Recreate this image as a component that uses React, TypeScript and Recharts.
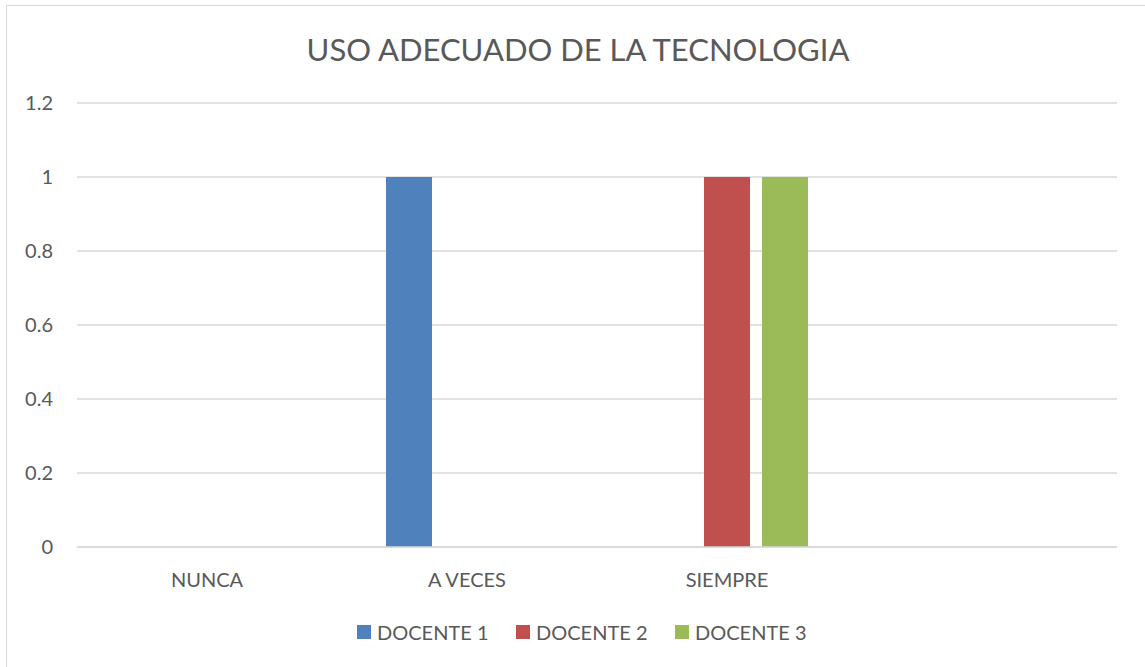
import { BarChart, Bar, XAxis, YAxis, CartesianGrid } from "recharts";

// categories (the fourth slot is empty in the original chart)
const categories = ["NUNCA", "A VECES", "SIEMPRE", ""];
const docente1 = [0, 1, 0, 0];
const docente2 = [0, 0, 1, 0];
const docente3 = [0, 0, 1, 0];
const yTicks = [0, 0.2, 0.4, 0.6, 0.8, 1, 1.2];

const series = [
  { key: "docente1", name: "DOCENTE 1", color: "#4f81bd" },
  { key: "docente2", name: "DOCENTE 2", color: "#c0504d" },
  { key: "docente3", name: "DOCENTE 3", color: "#9bbb59" },
];

const data = categories.map((c, i) => ({
  cat: c,
  docente1: docente1[i],
  docente2: docente2[i],
  docente3: docente3[i],
}));

const FONT = "Lato, 'Liberation Sans', sans-serif";
const TEXT = "#595959";

export default function App() {
  return (
    <div
      style={{
        position: "absolute",
        left: 0,
        top: 0,
        width: 1145,
        height: 667,
        overflow: "hidden",
        background: "#fff",
        fontFamily: FONT,
      }}
    >
      <div
        style={{
          position: "absolute",
          left: 6,
          top: 5,
          width: 1200,
          height: 720,
          border: "1px solid #d9d9d9",
        }}
      />
      <div
        style={{
          position: "absolute",
          left: 0,
          top: 34,
          width: 1156,
          textAlign: "center",
          fontSize: 31,
          lineHeight: "31px",
          color: TEXT,
        }}
      >
        USO ADECUADO DE LA TECNOLOGIA
      </div>
      <div style={{ position: "absolute", left: 0, top: 0 }}>
        <BarChart
          width={1145}
          height={667}
          data={data}
          margin={{ top: 103, right: 28, left: 0, bottom: 80 }}
          barSize={46}
          barGap={12}
        >
          <CartesianGrid vertical={false} stroke="#d9d9d9" strokeWidth={1.3} />
          <XAxis
            dataKey="cat"
            tickLine={false}
            tickSize={0}
            tickMargin={26}
            height={40}
            axisLine={{ stroke: "#d9d9d9", strokeWidth: 1.5 }}
            tick={{ fill: TEXT, fontSize: 20, fontFamily: FONT }}
            interval={0}
          />
          <YAxis
            domain={[0, 1.2]}
            ticks={yTicks}
            width={77}
            tickLine={false}
            tickSize={0}
            tickMargin={24}
            axisLine={false}
            tick={{ fill: TEXT, fontSize: 20, fontFamily: FONT }}
          />
          {series.map((s) => (
            <Bar
              key={s.key}
              dataKey={s.key}
              name={s.name}
              fill={s.color}
              isAnimationActive={false}
            />
          ))}
        </BarChart>
      </div>
      <div
        style={{
          position: "absolute",
          left: 357,
          top: 622,
          display: "flex",
          color: TEXT,
          fontSize: 20,
          lineHeight: "20px",
        }}
      >
        {series.map((s) => (
          <div key={s.key} style={{ display: "flex", alignItems: "center", width: 159 }}>
            <span
              style={{
                display: "inline-block",
                width: 14,
                height: 14,
                background: s.color,
                marginRight: 6,
              }}
            />
            <span>{s.name}</span>
          </div>
        ))}
      </div>
    </div>
  );
}
